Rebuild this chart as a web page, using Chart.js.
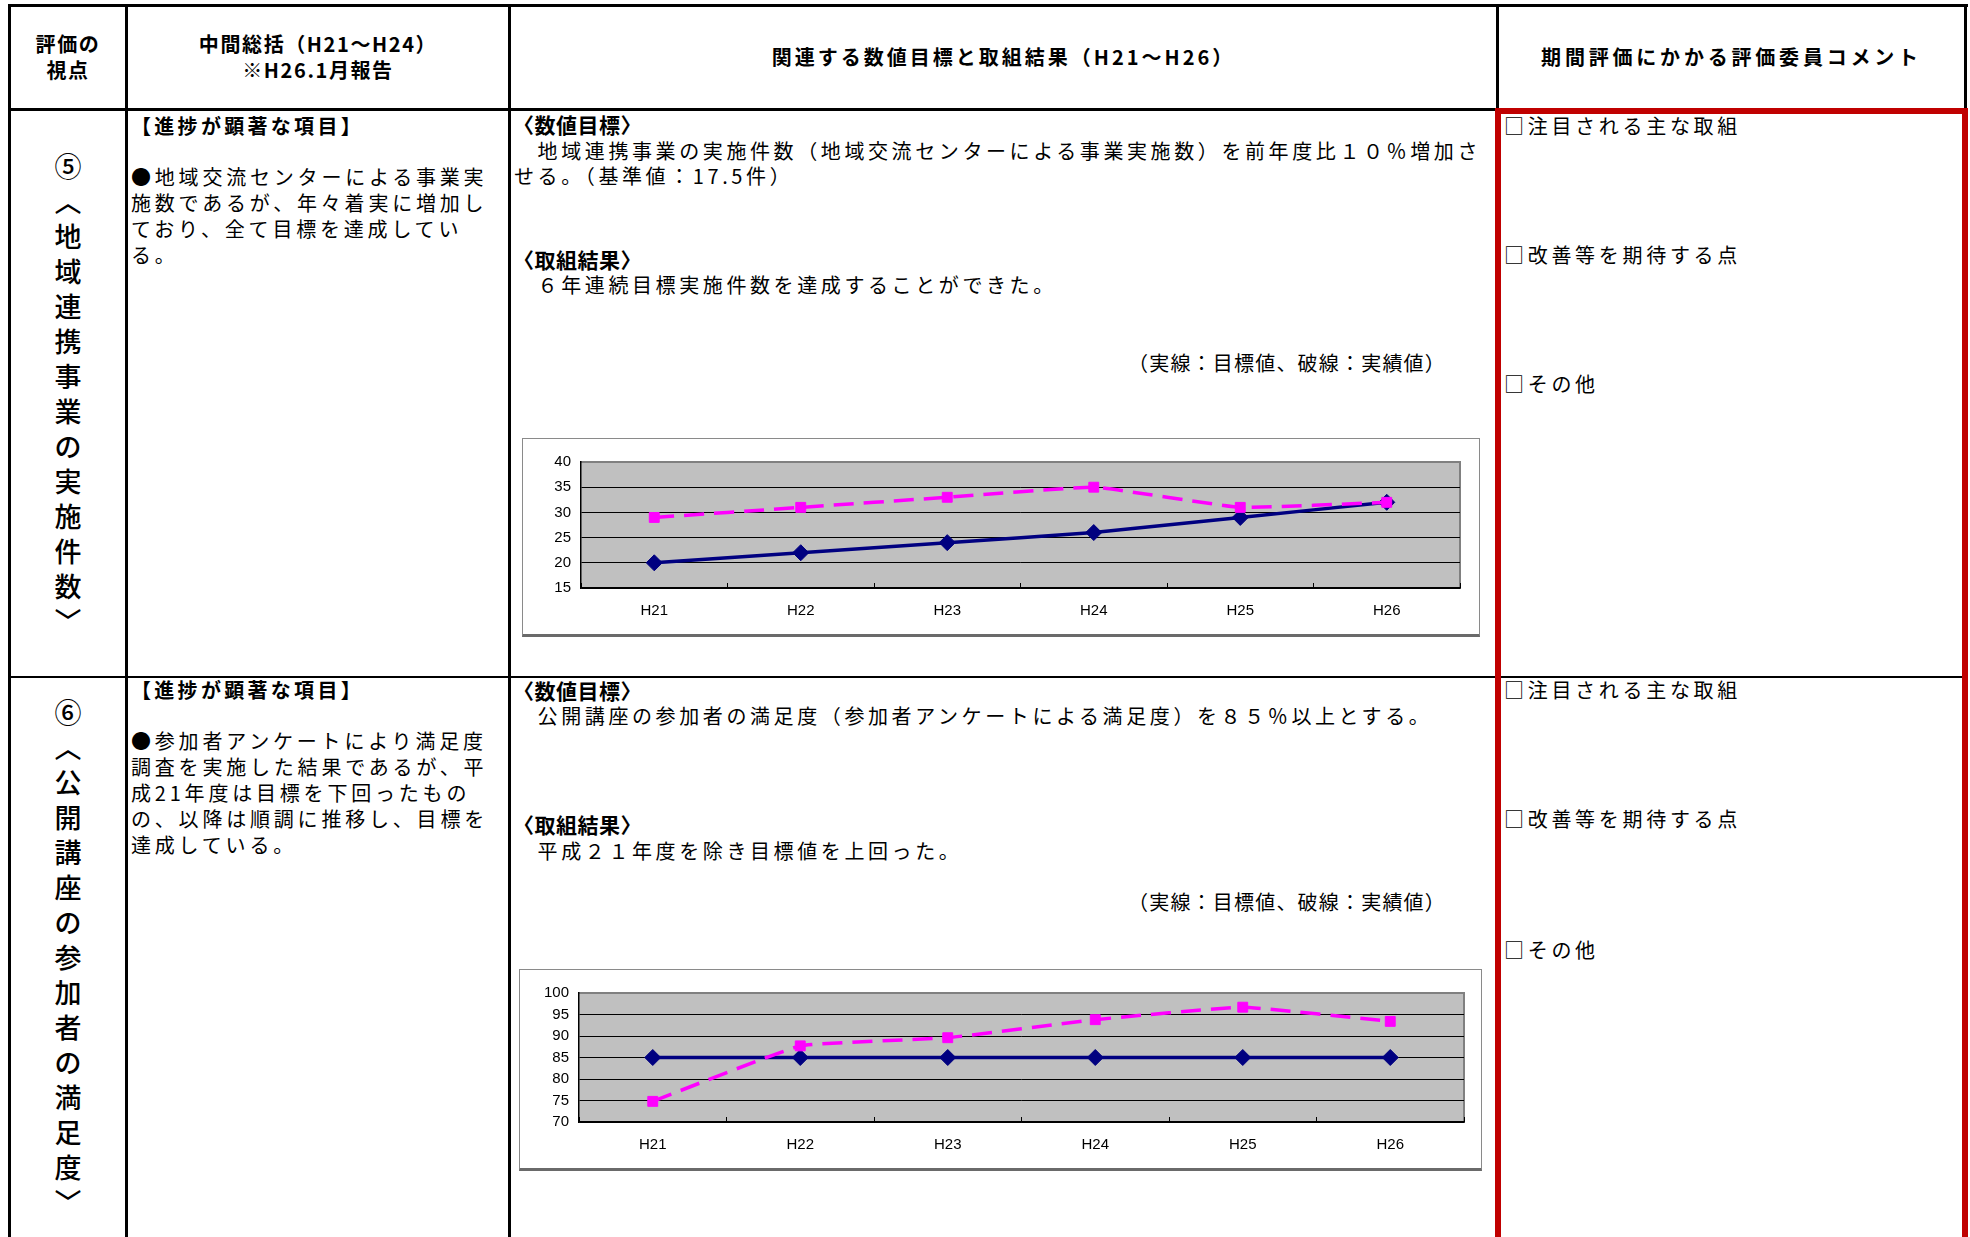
<!DOCTYPE html>
<html lang="ja">
<head>
<meta charset="utf-8">
<title>期間評価</title>
<script src="https://cdn.jsdelivr.net/npm/chart.js@4.4.1/dist/chart.umd.min.js"></script>
<style>
  body { margin: 0; background: #fff; font-family: "Noto Sans CJK JP", sans-serif; color: #000; }
  #page { position: relative; width: 1970px; height: 1237px; overflow: hidden; }
  .ln { position: absolute; background: #000; }
  .t { position: absolute; white-space: nowrap; font-size: 20px; line-height: 26px; letter-spacing: 3.7px; }
  .b { font-weight: bold; }
  .k { font-size: 21px; letter-spacing: 0.5px; font-weight: bold; }
  .h { position: absolute; font-weight: bold; font-size: 20px; line-height: 26px; text-align: center; white-space: nowrap; letter-spacing: 1.6px; }
  .v { position: absolute; width: 40px; font-size: 27px; line-height: 35px; text-align: center; font-weight: 500; }
  .box { position: absolute; box-sizing: border-box; border: 1px solid #8a8a8a; border-bottom: 3px solid #6a6a6a; background: #fff; }
  .box canvas { display: block; }
  #red { position: absolute; left: 1495px; top: 108px; width: 473px; height: 1200px; box-sizing: border-box; border: 6px solid #c00000; }
</style>
</head>
<body>
<div id="page">
  <!-- table lines -->
  <div class="ln" style="left:8px;top:4px;width:1960px;height:3px"></div>
  <div class="ln" style="left:8px;top:4px;width:3px;height:1240px"></div>
  <div class="ln" style="left:125px;top:4px;width:3px;height:1240px"></div>
  <div class="ln" style="left:508px;top:4px;width:3px;height:1240px"></div>
  <div class="ln" style="left:1496px;top:4px;width:3px;height:1240px"></div>
  <div class="ln" style="left:1964px;top:4px;width:3px;height:110px"></div>
  <div class="ln" style="left:8px;top:108px;width:1960px;height:3px"></div>
  <div class="ln" style="left:8px;top:676px;width:1960px;height:2px"></div>
  <div id="red"></div>

  <!-- header -->
  <div class="h" style="left:11px;width:114px;top:31px">評価の<br>視点</div>
  <div class="h" style="left:128px;width:380px;top:31px">中間総括（H21～H24）<br>※H26.1月報告</div>
  <div class="h" style="left:511px;width:985px;top:44px;letter-spacing:3px">関連する数値目標と取組結果（H21～H26）</div>
  <div class="h" style="left:1499px;width:465px;top:44px;letter-spacing:3.8px">期間評価にかかる評価委員コメント</div>

  <!-- row 1 -->
  <div class="v" style="left:48px;top:148px">⑤<br>︿<br>地<br>域<br>連<br>携<br>事<br>業<br>の<br>実<br>施<br>件<br>数<br>﹀</div>
  <div class="t b" style="left:131px;top:113px;letter-spacing:3.3px">【進捗が顕著な項目】</div>
  <div class="t" style="left:131px;top:164px;letter-spacing:3.8px">●地域交流センターによる事業実<br>施数であるが、年々着実に増加し<br>ており、全て目標を達成してい<br>る。</div>
  <div class="t k" style="left:513px;top:111px">〈数値目標〉</div>
  <div class="t" style="left:514px;top:138px;line-height:25px;letter-spacing:3.6px">　地域連携事業の実施件数（地域交流センターによる事業実施数）を前年度比１０％増加さ<br>せる。（基準値：17.5件）</div>
  <div class="t k" style="left:513px;top:246px">〈取組結果〉</div>
  <div class="t" style="left:514px;top:272px;letter-spacing:3.6px">　６年連続目標実施件数を達成することができた。</div>
  <div class="t" style="left:1128px;top:350px;letter-spacing:1.2px">（実線：目標値、破線：実績値）</div>
  <div class="box" style="left:522px;top:438px;width:958px;height:199px"><canvas id="c1" width="956" height="195"></canvas></div>
  <div class="t" style="left:1504px;top:113px">□注目される主な取組</div>
  <div class="t" style="left:1504px;top:242px">□改善等を期待する点</div>
  <div class="t" style="left:1504px;top:371px">□その他</div>

  <!-- row 2 -->
  <div class="v" style="left:48px;top:694px">⑥<br>︿<br>公<br>開<br>講<br>座<br>の<br>参<br>加<br>者<br>の<br>満<br>足<br>度<br>﹀</div>
  <div class="t b" style="left:131px;top:677px;letter-spacing:3.3px">【進捗が顕著な項目】</div>
  <div class="t" style="left:131px;top:728px;letter-spacing:3.8px">●参加者アンケートにより満足度<br>調査を実施した結果であるが、平<br>成21年度は目標を下回ったもの<br>の、以降は順調に推移し、目標を<br>達成している。</div>
  <div class="t k" style="left:513px;top:677px">〈数値目標〉</div>
  <div class="t" style="left:514px;top:703px;letter-spacing:3.6px">　公開講座の参加者の満足度（参加者アンケートによる満足度）を８５％以上とする。</div>
  <div class="t k" style="left:513px;top:811px">〈取組結果〉</div>
  <div class="t" style="left:514px;top:838px;letter-spacing:3.6px">　平成２１年度を除き目標値を上回った。</div>
  <div class="t" style="left:1128px;top:889px;letter-spacing:1.2px">（実線：目標値、破線：実績値）</div>
  <div class="box" style="left:519px;top:969px;width:963px;height:202px"><canvas id="c2" width="961" height="198"></canvas></div>
  <div class="t" style="left:1504px;top:677px">□注目される主な取組</div>
  <div class="t" style="left:1504px;top:806px">□改善等を期待する点</div>
  <div class="t" style="left:1504px;top:937px">□その他</div>
</div>

<script>
// 年度
var years = ["H21", "H22", "H23", "H24", "H25", "H26"];

// ⑤ 地域連携事業の実施件数
var renkeiTarget = [20, 22, 24, 26, 29, 32];
var renkeiActual = [29, 31, 33, 35, 31, 32];
var renkeiTicks = [15, 40, 5]; // min, max, step

// ⑥ 公開講座の参加者の満足度
var manzokuTarget = [85, 85, 85, 85, 85, 85];
var manzokuActual = [74.8, 87.7, 89.6, 93.8, 96.7, 93.4];
var manzokuTicks = [70, 100, 5];

// gray plot background like the old excel charts
var plotBg = {
  id: 'plotBg',
  beforeDraw: function(chart) {
    var a = chart.chartArea, ctx = chart.ctx;
    ctx.save();
    ctx.fillStyle = '#c0c0c0';
    ctx.fillRect(a.left, a.top, a.right - a.left, a.bottom - a.top);
    ctx.strokeStyle = '#808080';
    ctx.lineWidth = 2;
    ctx.beginPath();
    ctx.moveTo(a.left, a.top);
    ctx.lineTo(a.right, a.top);
    ctx.lineTo(a.right, a.bottom);
    ctx.stroke();
    ctx.restore();
  }
};

function makeChart(id, target, actual, ticks, pad, yWidth) {
  var ctx = document.getElementById(id).getContext('2d');
  return new Chart(ctx, {
    type: 'line',
    data: {
      labels: years,
      datasets: [
        {
          label: '目標値',
          data: target,
          borderColor: '#000080',
          backgroundColor: '#000080',
          borderWidth: 3.5,
          pointStyle: 'rectRot',
          pointRadius: 8,
          pointBorderWidth: 1,
          tension: 0.1,
          order: 2
        },
        {
          label: '実績値',
          data: actual,
          borderColor: '#ff00ff',
          backgroundColor: '#ff00ff',
          borderWidth: 3.5,
          borderDash: [20, 10],
          pointStyle: 'rect',
          pointRadius: 7,
          pointBorderWidth: 1,
          tension: 0.1,
          order: 1
        }
      ]
    },
    options: {
      responsive: false,
      animation: false,
      layout: { padding: pad },
      plugins: { legend: { display: false }, tooltip: { enabled: false } },
      scales: {
        x: {
          offset: true,
          grid: { offset: true, drawOnChartArea: false, drawTicks: true, tickLength: -5, color: '#000', lineWidth: 1 },
          border: { color: '#000', width: 1.5 },
          ticks: { color: '#000', padding: 19, font: { family: 'Liberation Sans', size: 15 } },
          afterFit: function(s) { s.height = 46; }
        },
        y: {
          min: ticks[0],
          max: ticks[1],
          ticks: { stepSize: ticks[2], color: '#000', padding: 10, font: { family: 'Liberation Sans', size: 15 } },
          grid: {
            drawTicks: false,
            lineWidth: 1,
            color: function(c) { return c.tick && c.tick.value === ticks[1] ? '#808080' : '#000'; }
          },
          border: { color: '#000', width: 1.5 },
          afterFit: function(s) { s.width = yWidth; }
        }
      }
    },
    plugins: [plotBg]
  });
}

window.onload = function() {
  makeChart('c1', renkeiTarget, renkeiActual, renkeiTicks, { top: 23, right: 19, left: 0, bottom: 0 }, 58);
  makeChart('c2', manzokuTarget, manzokuActual, manzokuTicks, { top: 23, right: 17, left: 0, bottom: 0 }, 59);
};
</script>
</body>
</html>
